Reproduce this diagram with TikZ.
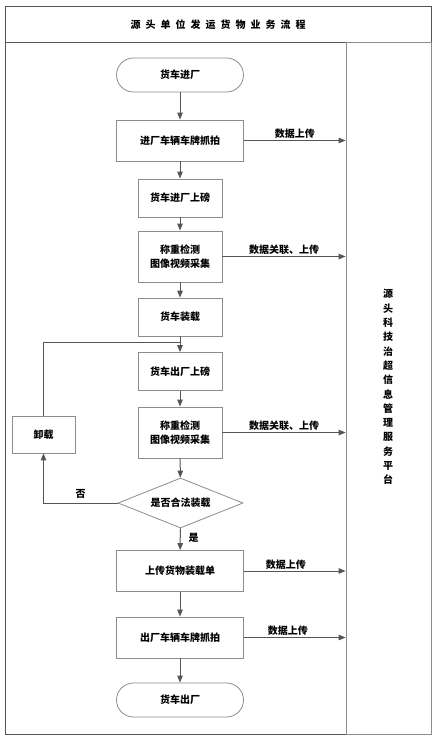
\documentclass[tikz,border=0pt]{standalone}
\usepackage{fontspec}
\setmainfont{Noto Sans CJK SC}
\usetikzlibrary{shapes.geometric,arrows.meta}
\definecolor{linegray}{HTML}{555555}
\definecolor{boxgray}{HTML}{8C8C8C}
\tikzset{
  box/.style={draw=boxgray,line width=0.8pt,fill=white,align=center,inner sep=0pt,font=\bfseries\fontsize{10}{14}\selectfont},
  wide/.style={box,minimum width=127pt,minimum height=41pt},
  narrow/.style={box,minimum width=84pt,minimum height=38pt},
  weigh/.style={box,minimum width=84pt,minimum height=51pt},
  term/.style={box,rounded corners=17pt,minimum width=127pt,minimum height=34pt},
  check/.style={box,diamond,aspect=2.5,minimum width=125pt,minimum height=50pt},
  flow/.style={draw=linegray,line width=1pt},
  lbl/.style={font=\bfseries\fontsize{10}{12}\selectfont,inner sep=1pt}
}
\begin{document}
\begin{tikzpicture}[x=1pt,y=-1pt,>={Triangle[length=7pt,width=5.5pt]}]
\useasboundingbox (0,0) rectangle (437,741);
% frame and lanes
\draw[linegray,line width=1pt] (5,7) rectangle (431,734);
\node[inner sep=0pt,minimum width=426pt,minimum height=35pt] (title) at (218,24.5)
  {\bfseries\fontsize{10}{12}\selectfont 源\hspace{5pt}头\hspace{5pt}单\hspace{5pt}位\hspace{5pt}发\hspace{5pt}运\hspace{5pt}货\hspace{5pt}物\hspace{5pt}业\hspace{5pt}务\hspace{5pt}流\hspace{5pt}程};
\draw[linegray,line width=1pt] (title.south west) -- (title.south east);
\node[draw=boxgray,line width=0.8pt,inner sep=0pt,minimum width=85pt,minimum height=692pt] (lane) at (388.5,388) {};
\foreach \c [count=\i] in {源,头,科,技,治,超,信,息,管,理,服,务,平,台}
  \node[lbl] (p\i) at (388,294+14.3*\i-14.3) {\c};
% steps
\node[term] (in) at (180,75) {货车进厂};
\node[wide] (cam1) at (180,140.5) {进厂车辆车牌抓拍};
\node[narrow] (sc1) at (180,198) {货车进厂上磅};
\node[weigh] (wt1) at (180,256.5) {称重检测\\图像视频采集};
\node[narrow] (load) at (180,317) {货车装载};
\node[narrow] (sc2) at (180,371.5) {货车出厂上磅};
\node[weigh] (wt2) at (180,432.5) {称重检测\\图像视频采集};
\node[check] (ok) at (180.5,503) {是否合法装载};
\node[narrow,minimum width=63pt,minimum height=37pt] (unld) at (43.5,434.5) {卸载};
\node[wide] (bill) at (180,571) {上传货物装载单};
\node[wide] (cam2) at (180,637.5) {出厂车辆车牌抓拍};
\node[term] (out) at (180,700) {货车出厂};
\coordinate (join) at (180,342);
% main flow
\path[->,every edge/.append style={flow}]
  (in) edge (cam1)
  (cam1) edge (sc1)
  (sc1) edge (wt1)
  (wt1) edge (load)
  (load) edge (sc2)
  (sc2) edge (wt2)
  (wt2) edge (ok)
  (ok) edge node[lbl,right,pos=0.45,xshift=7pt] {是} (bill)
  (bill) edge (cam2)
  (cam2) edge (out)
;
% uploads
\path[->,every edge/.append style={flow}]
  (cam1.east) edge node[lbl,above] {数据上传} (cam1.east -| lane.west)
  (wt1.east) edge node[lbl,above] {数据关联、上传} (wt1.east -| lane.west)
  (wt2.east) edge node[lbl,above] {数据关联、上传} (wt2.east -| lane.west)
  (bill.east) edge node[lbl,above,xshift=-9pt] {数据上传} (bill.east -| lane.west)
  (cam2.east) edge node[lbl,above,xshift=-7pt] {数据上传} (cam2.east -| lane.west)
;
% rejection loop
\draw[flow,->] (ok.west) -| node[lbl,pos=0.25,above,yshift=3pt] {否} (unld.south);
\draw[flow] (unld.north) |- (join);
\end{tikzpicture}
\end{document}
